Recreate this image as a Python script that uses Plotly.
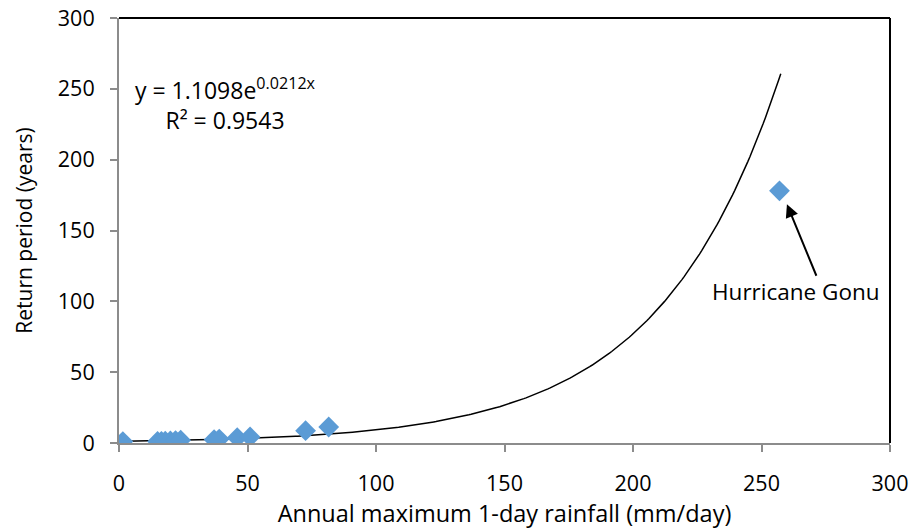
import numpy as np
import plotly.graph_objects as go

# Data
rainfall = [1.5, 15, 16.5, 18, 20, 22, 24, 37, 39, 46, 51, 72.6, 81.6, 257]
return_period = [1.0, 1.1, 1.2, 1.3, 1.5, 1.7, 2.0, 2.3, 2.8, 3.7, 4.3, 8.7, 11.3, 178]

# Exponential trendline coefficients shown on chart
coef_a = 1.1098
coef_b = 0.0212
trend_x_range = [2, 257.5]

x_ticks = [0, 50, 100, 150, 200, 250, 300]
y_ticks = [0, 50, 100, 150, 200, 250, 300]

FONT = "Open Sans"
tx = np.linspace(trend_x_range[0], trend_x_range[1], 300)
ty = coef_a * np.exp(coef_b * tx)

fig = go.Figure()
fig.add_trace(go.Scatter(x=tx, y=ty, mode="lines",
                         line=dict(color="black", width=1.5),
                         hoverinfo="skip", showlegend=False))
fig.add_trace(go.Scatter(x=rainfall, y=return_period, mode="markers",
                         marker=dict(symbol="diamond", size=16, color="#5B9BD5"),
                         showlegend=False))

fig.add_annotation(x=41.6, y=239, xref="x", yref="y", showarrow=False,
                   text="y = 1.1098e<sup>0.0212x</sup><br>R² = 0.9543",
                   align="center", font=dict(family=FONT, size=23, color="black"))
fig.add_annotation(x=263.4, y=106.6, xref="x", yref="y", showarrow=False,
                   text="Hurricane Gonu", font=dict(family=FONT, size=22.5, color="black"))
fig.add_annotation(x=259.9, y=168.5, ax=271.6, ay=117, xref="x", yref="y",
                   axref="x", ayref="y", text="", showarrow=True,
                   arrowhead=2, arrowsize=1.3, arrowwidth=2, arrowcolor="black")

# top and right plot-area borders
fig.add_shape(type="line", xref="paper", yref="paper", x0=0, x1=1, y0=1, y1=1,
              line=dict(color="black", width=2))
fig.add_shape(type="line", xref="paper", yref="paper", x0=1, x1=1, y0=0, y1=1,
              line=dict(color="black", width=2))

axis_common = dict(showgrid=False, zeroline=False, showline=True, automargin=False,
                   linecolor="#8c8c8c", linewidth=2, ticks="outside",
                   tickcolor="#8c8c8c", ticklen=7, tickwidth=1.5,
                   tickfont=dict(family=FONT, size=21.5, color="black"))
fig.update_xaxes(range=[0, 300], tickvals=x_ticks, ticklabelstandoff=13,
                 title=dict(text="Annual maximum 1-day rainfall (mm/day)",
                            font=dict(family=FONT, size=23.5, color="black"), standoff=5),
                 **axis_common)
fig.update_yaxes(range=[0, 300], tickvals=y_ticks, ticklabelstandoff=11,
                 title=dict(text="Return period (years)",
                            font=dict(family=FONT, size=21, color="black"), standoff=19),
                 **axis_common)

fig.update_layout(width=916, height=531, margin=dict(l=119, r=26, t=18, b=88),
                  plot_bgcolor="white", paper_bgcolor="white")
fig.write_html("out.html")
